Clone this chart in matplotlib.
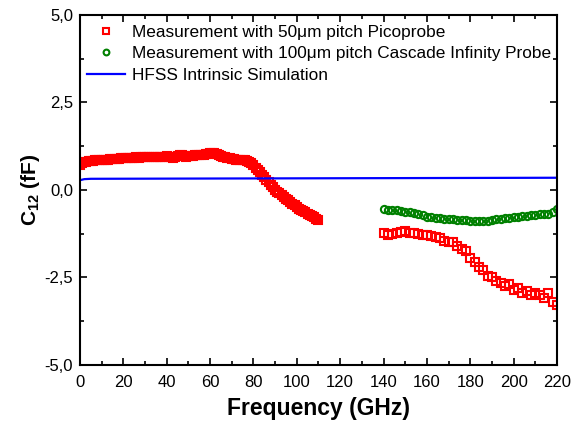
import numpy as np
import matplotlib
matplotlib.use("Agg")
from matplotlib import pyplot as plt
from matplotlib.ticker import MultipleLocator, FuncFormatter

plt.rcParams['font.family'] = ['Liberation Sans', 'DejaVu Sans']
plt.rcParams['mathtext.fontset'] = 'custom'
plt.rcParams['mathtext.rm'] = 'Liberation Sans'
plt.rcParams['mathtext.bf'] = 'Liberation Sans:bold'

# measurement sweep grids (GHz)
freq_pico_lo = np.arange(0, 111, 1)
freq_pico_hi = np.arange(140, 221, 2)
freq_cascade = np.arange(140, 221, 2)

# 50um Picoprobe, C12 in fF
c12_pico_lo = [0.72, 0.76, 0.79, 0.81, 0.82, 0.83, 0.84, 0.85, 0.85, 0.86, 0.86,
               0.87, 0.87, 0.86, 0.88, 0.88, 0.89, 0.88, 0.89, 0.90, 0.90,
               0.90, 0.91, 0.91, 0.92, 0.92, 0.93, 0.92, 0.93, 0.94, 0.93,
               0.93, 0.94, 0.94, 0.93, 0.94, 0.95, 0.94, 0.95, 0.95, 0.96,
               0.95, 0.94, 0.92, 0.95, 0.98, 1.00, 0.99, 0.96, 0.95, 0.96,
               0.97, 0.98, 0.99, 1.00, 0.99, 1.00, 1.01, 1.02, 1.04, 1.05,
               1.06, 1.05, 1.04, 1.01, 0.98, 0.95, 0.93, 0.91, 0.90, 0.88,
               0.88, 0.87, 0.87, 0.86, 0.86, 0.85, 0.83, 0.80, 0.76, 0.70,
               0.64, 0.57, 0.50, 0.43, 0.36, 0.29, 0.22, 0.15, 0.08, 0.01,
               -0.05, -0.10, -0.15, -0.20, -0.25, -0.30, -0.35, -0.40, -0.44, -0.48,
               -0.53, -0.57, -0.61, -0.64, -0.68, -0.72, -0.75, -0.78, -0.82, -0.86]
c12_pico_hi = [-1.22, -1.30, -1.25, -1.24, -1.20, -1.18, -1.22, -1.23, -1.25, -1.28,
               -1.30, -1.32, -1.35, -1.38, -1.45, -1.50, -1.48, -1.60, -1.70, -1.75,
               -1.95, -2.05, -2.20, -2.30, -2.45, -2.50, -2.60, -2.65, -2.75, -2.70,
               -2.85, -2.80, -2.95, -2.90, -3.00, -2.95, -3.00, -3.10, -2.95, -3.20,
               -3.30]

# 100um Cascade Infinity probe
c12_cascade = [-0.55, -0.56, -0.57, -0.58, -0.60, -0.63, -0.62, -0.67, -0.70, -0.72,
               -0.76, -0.78, -0.80, -0.81, -0.82, -0.83, -0.84, -0.85, -0.86, -0.87,
               -0.88, -0.89, -0.90, -0.90, -0.89, -0.87, -0.84, -0.82, -0.80, -0.79,
               -0.78, -0.77, -0.75, -0.74, -0.72, -0.71, -0.70, -0.69, -0.68, -0.64,
               -0.55]

# HFSS intrinsic simulation
freq_sim = [0, 2, 5, 220]
c12_sim = [0.28, 0.31, 0.32, 0.35]

fig = plt.figure(figsize=(5.77, 4.25), dpi=100)
ax = fig.add_axes([0.1386, 0.1412, 0.8267, 0.8235])

sq = dict(marker='s', ms=5.6, mfc='none', mec='red', mew=1.5, ls='none')
ax.plot(freq_pico_lo, c12_pico_lo, label='Measurement with 50\u03bcm pitch Picoprobe', **sq)
ax.plot(freq_pico_hi, c12_pico_hi, **sq)
ax.plot(freq_cascade, c12_cascade, marker='o', ms=5.2, mfc='none', mec='green', mew=1.5,
        ls='none', label='Measurement with 100\u03bcm pitch Cascade Infinity Probe')
ax.plot(freq_sim, c12_sim, color='blue', lw=1.6, label='HFSS Intrinsic Simulation')

ax.set_xlim(0, 220)
ax.set_ylim(-5, 5)
ax.xaxis.set_major_locator(MultipleLocator(20))
ax.xaxis.set_minor_locator(MultipleLocator(10))
ax.yaxis.set_major_locator(MultipleLocator(2.5))
ax.yaxis.set_minor_locator(MultipleLocator(1.25))
ax.yaxis.set_major_formatter(FuncFormatter(lambda v, p: ('%.1f' % v).replace('.', ',')))
ax.tick_params(which='both', direction='in', top=True, right=True, width=1.2, labelsize=12)
ax.tick_params(which='major', length=5)
ax.tick_params(which='minor', length=3)
ax.tick_params(axis='x', pad=7)
ax.tick_params(axis='y', pad=5)
for s in ax.spines.values():
	s.set_linewidth(1.5)

ax.set_xlabel('Frequency (GHz)', fontsize=16.5, fontweight='bold', labelpad=5)
ax.set_ylabel(r'C$_{\mathbf{12}}$ (fF)', fontsize=15, fontweight='bold', labelpad=2)

ax.legend(loc='upper left', bbox_to_anchor=(-0.014, 1.012), frameon=False, fontsize=12.4,
          handlelength=2.2, handletextpad=0.4, labelspacing=0.38, borderaxespad=0.5,
          borderpad=0.3, markerscale=0.8)

fig.savefig('out.png', dpi=100)
